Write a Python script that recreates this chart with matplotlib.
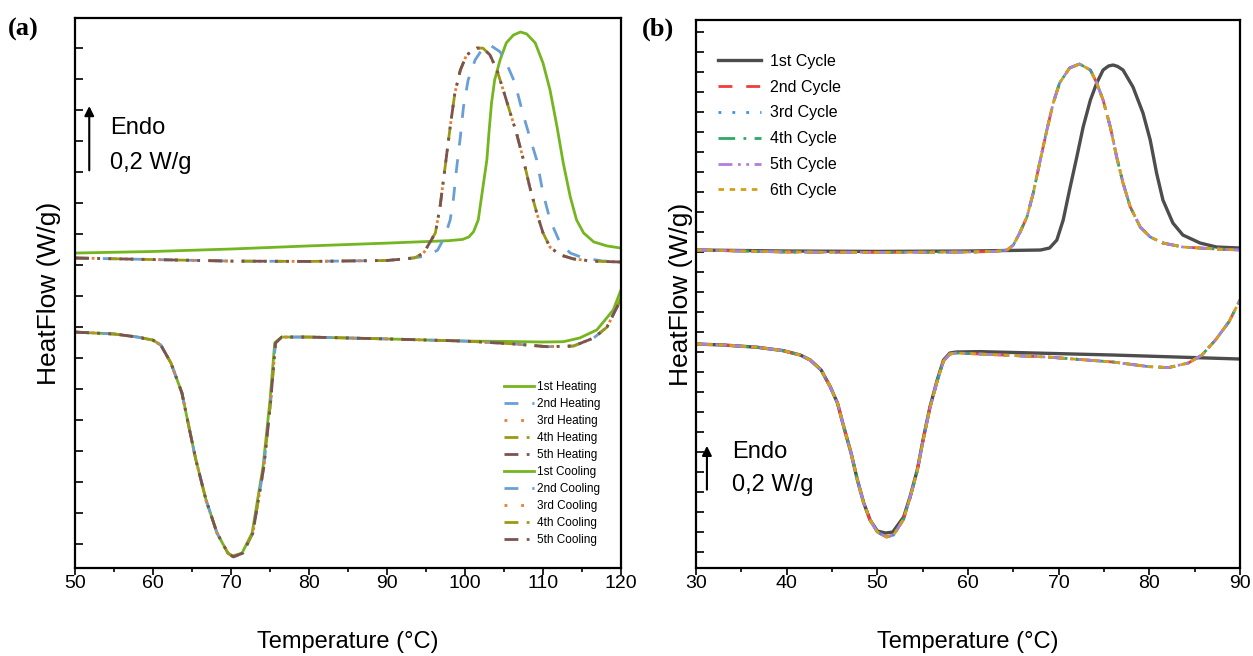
import matplotlib
matplotlib.use('Agg')
import matplotlib.pyplot as plt
from matplotlib.ticker import MultipleLocator
import numpy as np

plt.rcParams['font.family'] = ['Liberation Sans', 'DejaVu Sans']

# ---------------- (a) dados (W/g, deslocamento arbitrario) ----------------
t_heat1_a = [50, 60, 70, 80, 90, 95, 98, 99.7, 100.5, 101.1, 101.7, 102.3, 102.8, 103.1, 103.4,
             103.8, 104.5, 105.3, 106.2, 107.1, 107.9, 109.0, 110.0, 110.9, 111.8, 112.6, 113.5,
             114.3, 115.2, 116.5, 118.2, 120]
hf_heat1_a = [1.016, 1.021, 1.029, 1.039, 1.048, 1.053, 1.056, 1.060, 1.068, 1.085, 1.123, 1.229,
              1.316, 1.413, 1.500, 1.574, 1.639, 1.694, 1.719, 1.729, 1.723, 1.694, 1.629, 1.542,
              1.423, 1.306, 1.197, 1.123, 1.081, 1.052, 1.039, 1.032]

t_heat2_a = [50, 60, 70, 80, 90, 94.2, 95.5, 96.5, 97.4, 98.1, 98.5, 98.9, 99.4, 99.8, 100.4,
             101.3, 102.3, 103.2, 104.5, 105.3, 106.4, 107.4, 108.3, 109.2, 110.0, 110.9, 112.2,
             113.5, 115.2, 117.7, 120]
hf_heat2_a = [1.000, 0.995, 0.990, 0.989, 0.992, 1.003, 1.010, 1.026, 1.068, 1.123, 1.187, 1.284,
              1.390, 1.487, 1.574, 1.639, 1.677, 1.687, 1.665, 1.629, 1.565, 1.468, 1.390, 1.316,
              1.210, 1.123, 1.048, 1.016, 1.000, 0.990, 0.990]

t_heat_later_a = [50, 60, 70, 80, 90, 93.5, 94.7, 96.2, 96.8, 97.4, 98.1, 98.7, 99.4, 100.2, 101.5,
                  102.3, 103.2, 104.1, 104.9, 105.8, 106.6, 107.5, 108.3, 109.2, 110.0, 110.9,
                  112.2, 113.9, 116.4, 120]
hf_heat_later_a = [1.000, 0.995, 0.990, 0.989, 0.992, 1.000, 1.016, 1.081, 1.165, 1.284, 1.423,
                   1.532, 1.606, 1.655, 1.677, 1.677, 1.655, 1.606, 1.542, 1.468, 1.403, 1.316,
                   1.229, 1.145, 1.081, 1.035, 1.010, 0.997, 0.990, 0.987]

t_cool1_a = [50, 55, 58, 60, 61, 62.3, 63, 63.7, 64.6, 65.5, 66.8, 68.2, 69.6, 70.2, 71.4, 72.7,
             74.1, 75.0, 75.6, 76.5, 80, 90, 100, 105, 110, 112.6, 114.7, 116.9, 119, 120]
hf_cool1_a = [0.761, 0.755, 0.745, 0.735, 0.719, 0.661, 0.613, 0.565, 0.455, 0.348, 0.219, 0.113,
              0.048, 0.039, 0.048, 0.113, 0.326, 0.542, 0.726, 0.745, 0.745, 0.739, 0.732, 0.731,
              0.729, 0.730, 0.742, 0.768, 0.832, 0.897]

t_cool_later_a = [50, 55, 58, 60, 61, 62.3, 63, 63.7, 64.6, 65.5, 66.8, 68.2, 69.6, 70.3, 71.5,
                  72.8, 74.2, 75.1, 75.7, 76.5, 80, 90, 100, 106.2, 110.5, 113.9, 116.5, 118.2,
                  119.5, 120]
hf_cool_later_a = [0.761, 0.755, 0.745, 0.735, 0.719, 0.661, 0.613, 0.565, 0.455, 0.348, 0.219,
                   0.113, 0.048, 0.036, 0.048, 0.113, 0.326, 0.542, 0.726, 0.745, 0.745, 0.739,
                   0.732, 0.723, 0.714, 0.716, 0.742, 0.777, 0.842, 0.871]

labels_heat_a = ['1st Heating', '2nd Heating', '3rd Heating', '4th Heating', '5th Heating']
labels_cool_a = ['1st Cooling', '2nd Cooling', '3rd Cooling', '4th Cooling', '5th Cooling']

# ---------------- (b) ----------------
t_heat1_b = [30, 40, 50, 60, 65, 68, 69.0, 69.8, 70.5, 71.2, 72.0, 72.7, 73.5, 74.2, 74.9, 75.5,
             76.0, 76.5, 77.1, 78.2, 79.3, 80.1, 80.8, 81.5, 82.6, 83.7, 85.6, 87.4, 90]
hf_heat1_b = [1.590, 1.585, 1.583, 1.585, 1.588, 1.590, 1.600, 1.640, 1.740, 1.890, 2.055, 2.205,
              2.340, 2.425, 2.490, 2.510, 2.515, 2.508, 2.490, 2.405, 2.275, 2.140, 1.975, 1.840,
              1.725, 1.665, 1.625, 1.605, 1.600]

t_heat_later_b = [30, 40, 50, 60, 63, 64.3, 65.0, 65.7, 66.5, 67.2, 67.9, 68.7, 69.4, 70.1, 71.2,
                  72.3, 73.5, 74.2, 74.9, 75.7, 76.4, 77.1, 77.9, 79.0, 80.1, 81.5, 83.7, 87.4, 90]
hf_heat_later_b = [1.590, 1.580, 1.578, 1.580, 1.583, 1.590, 1.615, 1.675, 1.755, 1.875, 2.025,
                   2.190, 2.325, 2.425, 2.500, 2.520, 2.490, 2.425, 2.340, 2.205, 2.055, 1.925,
                   1.805, 1.705, 1.655, 1.625, 1.605, 1.595, 1.590]

t_cool1_b = [30, 33, 36.7, 39.6, 41.5, 42.6, 43.8, 44.8, 45.6, 46.3, 47.1, 47.8, 48.5, 49.2, 50,
             50.9, 51.7, 52.9, 53.6, 54.4, 55.1, 55.8, 56.6, 57.3, 58, 58.7, 61.3, 76, 90]
hf_cool1_b = [1.120, 1.115, 1.104, 1.087, 1.065, 1.040, 0.990, 0.907, 0.825, 0.705, 0.575, 0.440,
              0.325, 0.240, 0.185, 0.175, 0.180, 0.255, 0.355, 0.490, 0.655, 0.805, 0.940, 1.040,
              1.075, 1.080, 1.082, 1.065, 1.045]

t_cool_later_b = [30, 33, 36.7, 39.6, 41.5, 42.6, 43.8, 44.8, 45.6, 46.3, 47.1, 47.8, 48.5, 49.2,
                  50, 51.0, 51.8, 52.9, 53.6, 54.4, 55.1, 55.8, 56.6, 57.3, 58, 58.7, 61.3, 68.7,
                  76, 79.9, 82.1, 84.3, 85.8, 87.3, 88.8, 90]
hf_cool_later_b = [1.120, 1.115, 1.104, 1.087, 1.065, 1.040, 0.990, 0.907, 0.825, 0.705, 0.575,
                   0.440, 0.325, 0.240, 0.180, 0.155, 0.165, 0.245, 0.350, 0.485, 0.650, 0.800,
                   0.935, 1.035, 1.070, 1.075, 1.070, 1.055, 1.030, 1.007, 1.002, 1.025, 1.065,
                   1.140, 1.232, 1.340]

labels_b = ['1st Cycle', '2nd Cycle', '3rd Cycle', '4th Cycle', '5th Cycle', '6th Cycle']

# estilos
cores_a = ['#74b520', '#6a9fd6', '#f07b2a', '#9a9a12', '#7c5252']
linhas_a = ['-', (0, (5, 5)), (0, (1, 5)), (0, (5, 3, 1, 3)), (0, (5, 3, 1, 3, 1, 3))]
cores_b = ['#4d4d4d', '#f03c3c', '#3c8ff0', '#2ea866', '#b07ee0', '#d4a017']
linhas_b = ['-', (0, (5, 5)), (0, (1, 4)), (0, (6, 3, 1, 3)), (0, (5, 2, 1, 2, 1, 2)), (0, (2, 2))]

fig = plt.figure(figsize=(12.53, 6.56), dpi=100)
ax1 = fig.add_axes([0.0599, 0.1341, 0.4357, 0.8384])
ax2 = fig.add_axes([0.5555, 0.1341, 0.4341, 0.8354])

# ---------------- painel (a) ----------------
heat_a = [(t_heat1_a, hf_heat1_a), (t_heat2_a, hf_heat2_a), (t_heat_later_a, hf_heat_later_a),
          (t_heat_later_a, hf_heat_later_a), (t_heat_later_a, hf_heat_later_a)]
cool_a = [(t_cool1_a, hf_cool1_a)] + [(t_cool_later_a, hf_cool_later_a)] * 4
for i, (t, hf) in enumerate(heat_a):
    ax1.plot(t, hf, linestyle=linhas_a[i], color=cores_a[i], linewidth=2, label=labels_heat_a[i])
for i, (t, hf) in enumerate(cool_a):
    ax1.plot(t, hf, linestyle=linhas_a[i], color=cores_a[i], linewidth=2, label=labels_cool_a[i])

ax1.set_xlim(50, 120)
ax1.set_ylim(0, 1.774)
ax1.xaxis.set_major_locator(MultipleLocator(10))
ax1.xaxis.set_minor_locator(MultipleLocator(5))
ax1.set_yticks(np.arange(0.077, 1.72, 0.1))
ax1.legend(loc='upper left', bbox_to_anchor=(0.774, 0.35), fontsize=8.5, frameon=False,
           handlelength=2.6, handletextpad=0.2, labelspacing=0.42, borderpad=0)
ax1.annotate('', xy=(0.026, 0.845), xytext=(0.026, 0.718), xycoords='axes fraction',
             arrowprops=dict(arrowstyle='-|>', color='k', lw=1.5, mutation_scale=14))
ax1.text(0.064, 0.80, 'Endo', transform=ax1.transAxes, fontsize=17, va='center')
ax1.text(0.064, 0.736, '0,2 W/g', transform=ax1.transAxes, fontsize=17, va='center')

# ---------------- painel (b) ----------------
heat_b = [(t_heat1_b, hf_heat1_b)] + [(t_heat_later_b, hf_heat_later_b)] * 5
cool_b = [(t_cool1_b, hf_cool1_b)] + [(t_cool_later_b, hf_cool_later_b)] * 5
for i in range(6):
    lw = 2.4 if i == 0 else 2
    ax2.plot(heat_b[i][0], heat_b[i][1], linestyle=linhas_b[i], color=cores_b[i], linewidth=lw,
             label=labels_b[i])
    ax2.plot(cool_b[i][0], cool_b[i][1], linestyle=linhas_b[i], color=cores_b[i], linewidth=lw)

ax2.set_xlim(30, 90)
ax2.set_ylim(0, 2.74)
ax2.xaxis.set_major_locator(MultipleLocator(10))
ax2.xaxis.set_minor_locator(MultipleLocator(5))
ax2.set_yticks(np.arange(0.08, 2.7, 0.1))
ax2.legend(loc='upper left', bbox_to_anchor=(0.025, 0.953), fontsize=11.5, frameon=False,
           handlelength=2.7, handletextpad=0.6, labelspacing=0.68, borderpad=0)
ax2.annotate('', xy=(0.02, 0.228), xytext=(0.02, 0.138), xycoords='axes fraction',
             arrowprops=dict(arrowstyle='-|>', color='k', lw=1.5, mutation_scale=14))
ax2.text(0.066, 0.212, 'Endo', transform=ax2.transAxes, fontsize=17, va='center')
ax2.text(0.066, 0.151, '0,2 W/g', transform=ax2.transAxes, fontsize=17, va='center')

for ax in (ax1, ax2):
    ax.set_xlabel('Temperature (°C)', fontsize=17, labelpad=28)
    ax.tick_params(axis='x', which='major', direction='out', length=5, width=1.2, labelsize=14, pad=0)
    ax.tick_params(axis='x', which='minor', direction='out', length=3, width=1.2)
    ax.tick_params(axis='y', which='major', direction='in', length=6, width=1.2, labelleft=False)
    for s in ax.spines.values():
        s.set_linewidth(1.6)
ax1.set_ylabel('HeatFlow (W/g)', fontsize=19, labelpad=10)
ax2.set_ylabel('HeatFlow (W/g)', fontsize=19, labelpad=2)

fig.text(0.006, 0.955, '(a)', fontsize=19, fontweight='bold', family='Liberation Serif', va='center')
fig.text(0.512, 0.955, '(b)', fontsize=19, fontweight='bold', family='Liberation Serif', va='center')

fig.savefig('out.png', dpi=100)
